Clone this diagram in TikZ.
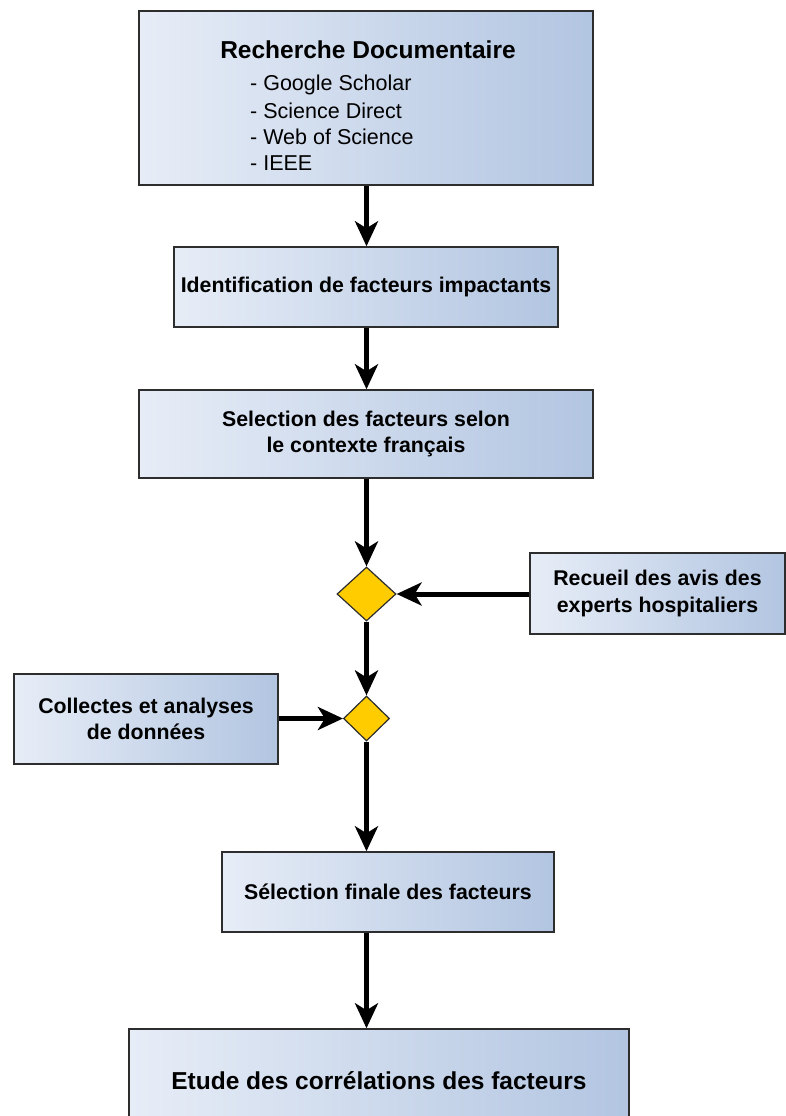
\documentclass[tikz,border=0pt]{standalone}
\usepackage{fontspec}
\setmainfont{Liberation Sans}
\usetikzlibrary{arrows.meta,shapes.geometric}
\definecolor{boxL}{RGB}{231,237,247}
\definecolor{boxR}{RGB}{178,197,225}
\definecolor{edge}{RGB}{45,45,45}
\definecolor{gold}{RGB}{255,204,0}
\tikzset{
  box/.style={draw=edge, line width=1.5pt, left color=boxL, right color=boxR,
    inner sep=0pt, align=center, font=\fontsize{21.3}{26.5}\selectfont\bfseries},
  gate/.style={diamond, draw=edge, line width=1.2pt, fill=gold, inner sep=0pt},
  arr/.style={line width=5pt, draw=black, -{Stealth[length=25pt,width=23pt,inset=7pt]}},
  title/.style={font=\fontsize{24.5}{29}\selectfont\bfseries},
  item/.style={font=\fontsize{21.5}{26}\selectfont, anchor=west, inner sep=0pt}
}
\begin{document}
\begin{tikzpicture}[x=1pt,y=-1pt]
\useasboundingbox (0,0) rectangle (786,1116);
\clip (0,0) rectangle (786,1116);
% boxes
\node[box, minimum width=454pt, minimum height=174pt] (b1) at (366,98) {};
\node[title] (t1) at (368,50) {Recherche Documentaire};
\node[item] (i1) at (250,85) {- Google Scholar};
\node[item] (i2) at (250,111) {- Science Direct};
\node[item] (i3) at (250,137) {- Web of Science};
\node[item] (i4) at (250,163) {- IEEE};
\node[box, minimum width=384pt, minimum height=80pt] (b2) at (366,287) {Identification de facteurs impactants};
\node[box, minimum width=454pt, minimum height=88pt] (b3) at (366,434) {Selection des facteurs selon\\le contexte français};
\node[gate, minimum width=59pt, minimum height=54pt] (d1) at (366.5,594) {};
\node[box, minimum width=255pt, minimum height=81pt] (r) at (657.5,593.5) {Recueil des avis des\\ experts hospitaliers};
\node[gate, minimum width=46pt, minimum height=45pt] (d2) at (366.5,718.5) {};
\node[box, minimum width=264pt, minimum height=90pt] (c) at (146,719) {Collectes et analyses\\ de données};
\node[box, minimum width=332pt, minimum height=80pt] (sf) at (388,892) {Sélection finale des facteurs};
\node[box, minimum width=500pt, minimum height=104pt, font=\fontsize{24.5}{29}\selectfont\bfseries] (et) at (379,1081) {Etude des corrélations des facteurs};
% connectors
\draw[arr] (b1.south -| d1) -- (b2.north -| d1);
\draw[arr] (b2.south -| d1) -- (b3.north -| d1);
\draw[arr] (b3.south -| d1) -- (d1.north);
\draw[arr] (r.west |- d1) -- (d1.east);
\draw[arr] (d1.south) -- (d2.north);
\draw[arr] (c.east |- d2) -- (d2.west);
\draw[arr] (d2.south) -- (d2.south |- sf.north);
\draw[arr] (sf.south -| d2) -- (et.north -| d2);
\end{tikzpicture}
\end{document}
